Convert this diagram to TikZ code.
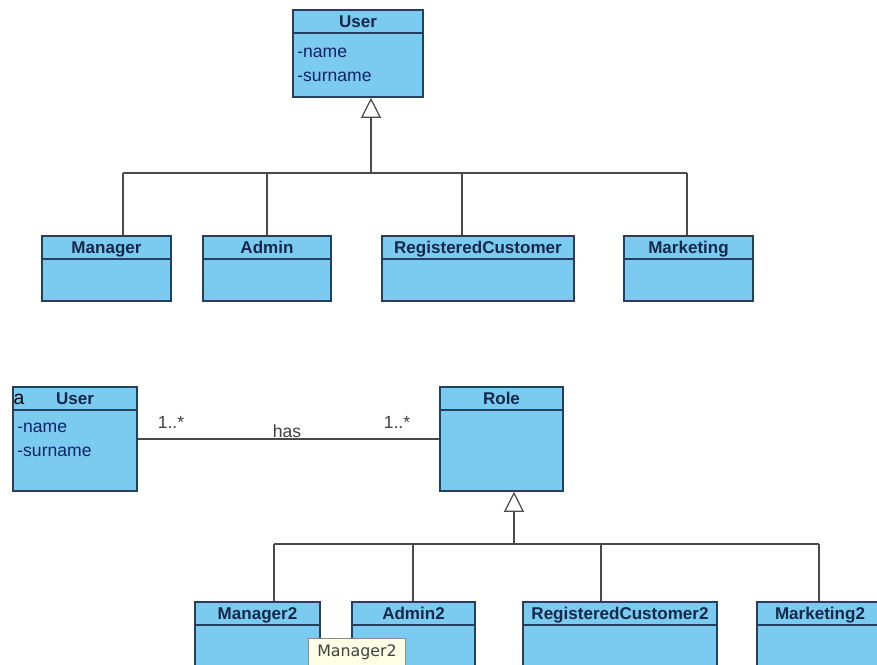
\documentclass[tikz,border=0pt]{standalone}
\usepackage{fontspec}
\setmainfont{Liberation Sans}
\newfontfamily\tipfont{DejaVu Sans}
\usetikzlibrary{arrows.meta,calc,fit}
\definecolor{classfill}{HTML}{7BCBF1}
\definecolor{classedge}{HTML}{24405E}
\definecolor{classtext}{HTML}{14284A}
\definecolor{linkgray}{HTML}{4A4A4A}
\definecolor{tipfill}{HTML}{FFFFE6}
\tikzset{
  classbox/.style = {draw=classedge, fill=classfill, line width=0.9pt,
    inner sep=0pt},% class rectangle
  classrule/.style = {draw=classedge, line width=0.9pt},% line under the name
  classtitle/.style = {font=\fontsize{9.7}{11}\selectfont\bfseries,
    text=classtext, inner sep=0pt, anchor=base},
  attr/.style = {font=\fontsize{10}{12}\selectfont, text=classtext!85!blue,
    anchor=base west, inner sep=0pt},% attribute lines
  link/.style = {draw=linkgray, line width=0.7pt},
  gen/.style = {link, line width=1.1pt,
    -{Triangle[open, length=0.4cm, width=0.4cm, line width=0.7pt]}},% generalisation
  mult/.style = {font=\fontsize{10}{12}\selectfont, text=black!75, inner sep=0pt},
  tip/.style = {draw=black!45, fill=tipfill, font=\tipfont\fontsize{9}{11}\selectfont,
    text=black!75, inner xsep=0.18cm, inner ysep=0pt, minimum height=0.56cm,
    anchor=north west}% hover tooltip
}
% name, left, top, right, bottom, title
\newcommand{\umlclass}[6]{%
  \coordinate (#1-nw) at (#2,#3);
  \coordinate (#1-se) at (#4,#5);
  \node[classbox, fit=(#1-nw)(#1-se)] (#1) {};
  \draw[classrule] ($(#1.north west)+(0,24)$) -- ($(#1.north east)+(0,24)$);
  \node[classtitle] (#1-title) at ($(#1.north)+(0,18)$) {#6};
}
\begin{document}
\begin{tikzpicture}[x=0.02cm, y=-0.02cm]
\useasboundingbox (0,0) rectangle (877,664);
\clip (0,0) rectangle (877,664);
% upper diagram
\umlclass{user}{293}{10}{423}{97}{User}
\node[attr] (user-name) at (297,57) {-name};
\node[attr] (user-surname) at (297,81) {-surname};
\umlclass{manager}{42}{236}{171}{301}{Manager}
\umlclass{admin}{203}{236}{331}{301}{Admin}
\umlclass{registered}{382}{236}{574}{301}{RegisteredCustomer}
\umlclass{marketing}{624}{236}{753}{301}{Marketing}
\coordinate (bus1) at (371,173);
\coordinate (d-manager) at (123,173);
\coordinate (d-admin) at (267,173);
\coordinate (d-registered) at (462,173);
\coordinate (d-marketing) at (687,173);
\draw[link] (d-manager) -- (d-marketing);
\foreach \c in {manager,admin,registered,marketing}
  \draw[link] (d-\c) -- (d-\c |- \c.north);
\draw[gen] (bus1) -- (bus1 |- user.south);
% lower diagram
\umlclass{user2}{13}{387}{137}{491}{User}
\node[font=\fontsize{11}{12}\selectfont, anchor=base, inner sep=0pt] (user2-mark) at (19,404) {a};
\node[attr] (user2-name) at (17,432) {-name};
\node[attr] (user2-surname) at (17,456) {-surname};
\umlclass{role}{440}{387}{563}{491}{Role}
\draw[link] (user2.east) -- (role.west);
\node[mult] (mult-user) at (171,422) {1..*};
\node[mult] (has) at (287,431) {has};
\node[mult] (mult-role) at (397,422) {1..*};
\umlclass{manager2}{195}{602}{320}{700}{Manager2}
\umlclass{admin2}{352}{602}{475}{700}{Admin2}
\umlclass{registered2}{523}{602}{717}{700}{RegisteredCustomer2}
\umlclass{marketing2}{757}{602}{883}{700}{Marketing2}
\coordinate (bus2) at (514,544);
\coordinate (d-manager2) at (274,544);
\coordinate (d-admin2) at (413,544);
\coordinate (d-registered2) at (601,544);
\coordinate (d-marketing2) at (819,544);
\draw[link] (d-manager2) -- (d-marketing2);
\foreach \c in {manager2,admin2,registered2,marketing2}
  \draw[link] (d-\c) -- (d-\c |- \c.north);
\draw[gen] (bus2) -- (bus2 |- role.south);
\node[tip] (tooltip) at (308,638) {Manager2};
\end{tikzpicture}
\end{document}
